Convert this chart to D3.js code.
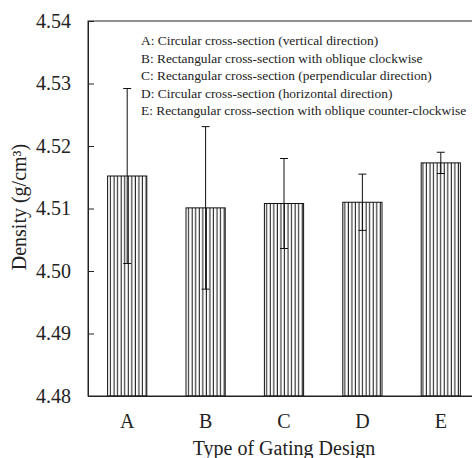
<!DOCTYPE html>
<html>
<head>
<meta charset="utf-8">
<script src="https://cdn.jsdelivr.net/npm/d3@7"></script>
<style>
  body { margin: 0; background: #fff; }
</style>
</head>
<body>
<svg id="chart" width="472" height="458"></svg>
<script>
// data
const categories = ["A", "B", "C", "D", "E"];
const densities = [4.5152, 4.5101, 4.5108, 4.5110, 4.5173];
const errors = [0.0140, 0.0130, 0.0072, 0.0045, 0.0017];
const yTicks = [4.48, 4.49, 4.50, 4.51, 4.52, 4.53, 4.54];
const legendLines = [
  "A: Circular cross-section (vertical direction)",
  "B: Rectangular cross-section with oblique clockwise",
  "C: Rectangular cross-section (perpendicular direction)",
  "D: Circular cross-section (horizontal direction)",
  "E: Rectangular cross-section with oblique counter-clockwise"
];

const FONT = "Liberation Serif";
const MARGIN = { top: 21, left: 88, bottom: 62 };
const PLOT_W = 392;  // the right edge runs past the window
const PLOT_H = 458 - MARGIN.top - MARGIN.bottom;

const svg = d3.select("#chart");

// vertical hatch used as the bar fill
svg.append("defs").append("pattern")
  .attr("id", "vhatch")
  .attr("patternUnits", "userSpaceOnUse")
  .attr("width", 3.55)
  .attr("height", 10)
  .append("line")
  .attr("x1", 1.2).attr("x2", 1.2)
  .attr("y1", 0).attr("y2", 10)
  .attr("stroke", "#111")
  .attr("stroke-width", 1);

const g = svg.append("g")
  .attr("transform", "translate(" + MARGIN.left + "," + MARGIN.top + ")");

const x = d3.scaleBand().domain(categories).range([0, PLOT_W]).paddingInner(0.5).paddingOuter(0.25);
const y = d3.scaleLinear().domain([4.48, 4.54]).range([PLOT_H, 0]);

// bars
g.selectAll(".bar")
  .data(categories)
  .enter().append("rect")
  .attr("class", "bar")
  .attr("x", d => x(d))
  .attr("y", (d, i) => y(densities[i]))
  .attr("width", x.bandwidth())
  .attr("height", (d, i) => y(4.48) - y(densities[i]))
  .attr("fill", "url(#vhatch)")
  .attr("stroke", "#111")
  .attr("stroke-width", 1);

// error bars
const capHalf = 4;
const err = g.selectAll(".err")
  .data(categories)
  .enter().append("g")
  .attr("class", "err")
  .attr("stroke", "#111")
  .attr("stroke-width", 1);

err.append("line")
  .attr("x1", d => x(d) + x.bandwidth() / 2)
  .attr("x2", d => x(d) + x.bandwidth() / 2)
  .attr("y1", (d, i) => y(densities[i] - errors[i]))
  .attr("y2", (d, i) => y(densities[i] + errors[i]));
[-1, 1].forEach(s => {
  err.append("line")
    .attr("x1", d => x(d) + x.bandwidth() / 2 - capHalf)
    .attr("x2", d => x(d) + x.bandwidth() / 2 + capHalf)
    .attr("y1", (d, i) => y(densities[i] + s * errors[i]))
    .attr("y2", (d, i) => y(densities[i] + s * errors[i]));
});

// frame
g.append("rect")
  .attr("x", 0).attr("y", 0)
  .attr("width", PLOT_W).attr("height", PLOT_H)
  .attr("fill", "none")
  .attr("stroke", "#222")
  .attr("stroke-width", 1);

// y axis, ticks pointing inward
const yAxis = g.append("g")
  .call(d3.axisLeft(y).tickValues(yTicks).tickFormat(d3.format(".2f")).tickSizeInner(-6).tickSizeOuter(0).tickPadding(17));
yAxis.attr("font-family", FONT);
yAxis.select(".domain").attr("stroke", "#222");
yAxis.selectAll(".tick line").attr("stroke", "#222");
yAxis.selectAll("text")
  .attr("font-size", 20)
  .attr("fill", "#222");

// x axis labels
const xAxis = g.append("g")
  .attr("transform", "translate(0," + PLOT_H + ")")
  .call(d3.axisBottom(x).tickSize(0).tickPadding(18));
xAxis.attr("font-family", FONT);
xAxis.select(".domain").attr("stroke", "#222");
xAxis.selectAll("text")
  .attr("font-size", 20)
  .attr("fill", "#222");

// legend text
g.append("g")
  .attr("font-family", FONT)
  .selectAll("text")
  .data(legendLines)
  .enter().append("text")
  .attr("x", 53)
  .attr("y", (d, i) => 24 + i * 17.6)
  .attr("font-size", 13.4)
  .attr("fill", "#222")
  .text(d => d);

// axis titles
svg.append("text")
  .attr("x", 284)
  .attr("y", 455)
  .attr("text-anchor", "middle")
  .attr("font-family", FONT)
  .attr("font-size", 20)
  .attr("fill", "#222")
  .text("Type of Gating Design");

svg.append("text")
  .attr("transform", "translate(26,207) rotate(-90)")
  .attr("text-anchor", "middle")
  .attr("font-family", FONT)
  .attr("font-size", 20)
  .attr("fill", "#222")
  .text("Density (g/cm³)");
</script>
</body>
</html>
